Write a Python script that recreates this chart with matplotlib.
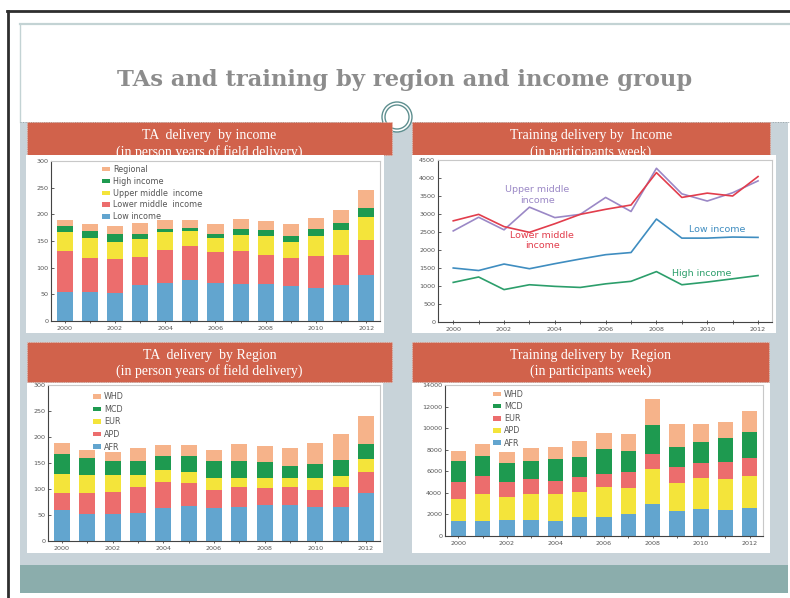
import matplotlib

matplotlib.use("Agg")

import matplotlib.pyplot as plt
from matplotlib.patches import Rectangle, Ellipse
from matplotlib.lines import Line2D
import numpy as np

W, H = 790, 598

years = list(range(2000, 2013))

# TA delivery by income (person years)
ta_inc_low = [54, 54, 53, 67, 71, 77, 71, 70, 70, 65, 62, 67, 87]
ta_inc_lower_mid = [77, 64, 63, 53, 63, 64, 58, 61, 54, 53, 60, 57, 65]
ta_inc_upper_mid = [35, 38, 32, 33, 32, 27, 27, 31, 35, 31, 37, 46, 43]
ta_inc_high = [12, 12, 15, 11, 7, 6, 7, 11, 11, 10, 13, 14, 16]
ta_inc_regional = [12, 13, 15, 20, 17, 16, 18, 18, 17, 22, 21, 25, 35]

# Training delivery by income (participant weeks)
tr_upper_mid = [2530, 2910, 2560, 3190, 2900, 2990, 3460, 3070, 4270, 3560, 3360, 3590, 3920]
tr_lower_mid = [2810, 2990, 2650, 2490, 2730, 2990, 3130, 3250, 4150, 3460, 3580, 3500, 4040]
tr_low = [1500, 1430, 1610, 1480, 1620, 1750, 1870, 1930, 2860, 2330, 2330, 2360, 2350]
tr_high = [1100, 1250, 900, 1035, 990, 960, 1060, 1130, 1400, 1035, 1110, 1200, 1290]

# TA delivery by region (person years)
ta_afr = [60, 52, 52, 53, 64, 68, 63, 65, 69, 69, 66, 66, 93]
ta_apd = [32, 40, 43, 50, 49, 43, 36, 38, 32, 34, 33, 37, 39]
ta_eur = [36, 34, 31, 24, 24, 21, 22, 19, 21, 18, 23, 22, 25]
ta_mcd = [39, 33, 28, 27, 27, 32, 33, 32, 29, 23, 27, 31, 29]
ta_whd = [21, 16, 18, 24, 21, 21, 21, 33, 32, 34, 40, 50, 54]

# Training delivery by region (participant weeks)
tr_afr = [1420, 1420, 1480, 1480, 1390, 1730, 1730, 2010, 2940, 2320, 2500, 2410, 2630]
tr_apd = [2010, 2470, 2160, 2410, 2470, 2380, 2840, 2470, 3240, 2620, 2910, 2870, 2970]
tr_eur = [1545, 1670, 1390, 1360, 1270, 1390, 1140, 1480, 1390, 1420, 1390, 1610, 1610]
tr_mcd = [2010, 1885, 1700, 1730, 2010, 1790, 2350, 1920, 2720, 1850, 1950, 2160, 2470]
tr_whd = [900, 1050, 1020, 1210, 1140, 1515, 1450, 1545, 2380, 2130, 1610, 1545, 1920]

C_BLUE = "#62a5cf"
C_RED = "#ec6d6d"
C_YELLOW = "#f4e43a"
C_GREEN = "#1e9a50"
C_PEACH = "#f6b38a"
C_HEADER = "#d1624b"
C_PANEL = "#c8d3d9"
C_TEAL = "#8badac"
TICK_C = "#555555"

fig = plt.figure(figsize=(W / 100, H / 100), dpi=100)
fig.patch.set_facecolor("white")


def frect(x0, y0, x1, y1, **kw):
    r = Rectangle((x0 / W, 1 - y1 / H), (x1 - x0) / W, (y1 - y0) / H,
                  transform=fig.transFigure, **kw)
    fig.patches.append(r)
    return r


def fline(xs, ys, **kw):
    fig.lines.append(Line2D([x / W for x in xs], [1 - y / H for y in ys],
                            transform=fig.transFigure, **kw))


def axbox(x0, y0, x1, y1):
    return [x0 / W, 1 - y1 / H, (x1 - x0) / W, (y1 - y0) / H]


# slide frame
fline([7, 790], [11, 11], color="#2e2e2e", linewidth=2, zorder=6)
fline([8, 8], [11, 598], color="#2e2e2e", linewidth=2, zorder=6)
fline([20, 790], [24, 24], color="#c3d3d4", linewidth=1.6, zorder=0.2)
fline([20, 20], [24, 122], color="#c3d3d4", linewidth=1, zorder=0.2)
frect(20, 122, 788, 565, facecolor=C_PANEL, edgecolor="none", zorder=0.1)
frect(20, 565, 788, 593, facecolor=C_TEAL, edgecolor="none", zorder=0.1)
fline([20, 790], [122, 122], color="#9aa4a8", linewidth=0.7, linestyle=":", zorder=0.3)

fig.text(405 / W, 1 - 80 / H, "TAs and training by region and income group",
         ha="center", va="center", fontsize=16.3, fontweight="bold",
         family="DejaVu Serif", color="#8c8c8c", zorder=1)

# ring ornament
fig.patches.append(Ellipse((397 / W, 1 - 117 / H), 30 / W, 30 / H, transform=fig.transFigure,
                           facecolor="white", edgecolor="#5e8f8f", linewidth=1.0, zorder=0.5))
fig.patches.append(Ellipse((397 / W, 1 - 117 / H), 24 / W, 24 / H, transform=fig.transFigure,
                           facecolor="none", edgecolor="#5e8f8f", linewidth=1.0, zorder=0.5))


def header(x0, y0, x1, y1, line1, line2, ty1, ty2):
    frect(x0, y0, x1, y1, facecolor=C_HEADER, edgecolor="#e6c9c0",
          linewidth=0.6, linestyle=":", zorder=1)
    cx = (x0 + x1) / 2 / W
    fig.text(cx, 1 - ty1 / H, line1, ha="center", va="center", fontsize=10,
             family="Liberation Serif", color="white", zorder=1.5)
    fig.text(cx, 1 - ty2 / H, line2, ha="center", va="center", fontsize=10,
             family="Liberation Serif", color="white", zorder=1.5)


def style_axes(ax, ymax, ystep):
    ax.set_facecolor("white")
    ax.set_zorder(3)
    ax.set_ylim(0, ymax)
    ax.set_yticks(np.arange(0, ymax + 1, ystep))
    for s in ("left", "bottom"):
        ax.spines[s].set_color("#444444")
        ax.spines[s].set_linewidth(0.8)
    for s in ("top", "right"):
        ax.spines[s].set_color("#c8c8c8")
        ax.spines[s].set_linewidth(0.8)
    ax.tick_params(axis="both", labelsize=4.6, colors="#444444", labelcolor=TICK_C,
                   length=3, width=0.6, pad=2)
    ax.tick_params(axis="x", direction="inout")
    ax.tick_params(axis="y", direction="in", length=2)


def stacked(ax, series, colors, labels, legend_x, legend_y, spacing):
    x = np.arange(len(years))
    bottom = np.zeros(len(years))
    handles = []
    for vals, c, lab in zip(series, colors, labels):
        b = ax.bar(x, vals, 0.64, bottom=bottom, color=c, label=lab, zorder=2)
        handles.append(b)
        bottom += np.array(vals)
    ax.set_xlim(-0.55, len(years) - 0.45)
    ax.set_xticks(x)
    ax.set_xticklabels([str(y) if y % 2 == 0 else "" for y in years])
    leg = ax.legend(handles[::-1], labels[::-1], loc="upper left",
                    bbox_to_anchor=(legend_x, legend_y), frameon=False,
                    fontsize=5.8, handlelength=1.0, handleheight=0.5,
                    handletextpad=0.4, labelspacing=spacing, borderaxespad=0)
    for t in leg.get_texts():
        t.set_color("#555555")


# --- top left: TA delivery by income
header(27, 122, 392, 155, "TA  delivery  by income", "(in person years of field delivery)", 136, 152)
frect(26, 155, 384, 333, facecolor="white", edgecolor="none", zorder=2)
ax1 = fig.add_axes(axbox(51, 161, 380, 321))
style_axes(ax1, 300, 50)
stacked(ax1, [ta_inc_low, ta_inc_lower_mid, ta_inc_upper_mid, ta_inc_high, ta_inc_regional],
        [C_BLUE, C_RED, C_YELLOW, C_GREEN, C_PEACH],
        ["Low income", "Lower middle  income", "Upper middle  income", "High income", "Regional"],
        0.145, 0.995, 0.35)

# --- top right: training delivery by income
header(412, 122, 770, 155, "Training delivery by  Income", "(in participants week)", 136, 152)
frect(412, 155, 776, 333, facecolor="white", edgecolor="none", zorder=2)
ax2 = fig.add_axes(axbox(438, 160, 772, 322))
style_axes(ax2, 4500, 500)
ax2.plot(years, tr_upper_mid, color="#9b88c6", linewidth=1.2)
ax2.plot(years, tr_lower_mid, color="#e23d4c", linewidth=1.2)
ax2.plot(years, tr_low, color="#3f8dc0", linewidth=1.2)
ax2.plot(years, tr_high, color="#2c9e6b", linewidth=1.2)
ax2.set_xlim(1999.4, 2012.55)
ax2.set_xticks(years)
ax2.set_xticklabels([str(y) if y % 2 == 0 else "" for y in years])
ax2.text(2003.3, 3530, "Upper middle\nincome", color="#9b88c6", fontsize=6.8,
         ha="center", va="center", linespacing=1.2)
ax2.text(2003.5, 2270, "Lower middle\nincome", color="#e23d4c", fontsize=6.8,
         ha="center", va="center", linespacing=1.2)
ax2.text(2010.4, 2560, "Low income", color="#3f8dc0", fontsize=6.8, ha="center", va="center")
ax2.text(2009.8, 1360, "High income", color="#2c9e6b", fontsize=6.8, ha="center", va="center")

# --- bottom left: TA delivery by region
header(27, 342, 392, 382, "TA  delivery  by Region", "(in person years of field delivery)", 355, 371)
frect(27, 383, 383, 553, facecolor="white", edgecolor="none", zorder=2)
ax3 = fig.add_axes(axbox(48, 385, 380, 541))
style_axes(ax3, 300, 50)
stacked(ax3, [ta_afr, ta_apd, ta_eur, ta_mcd, ta_whd],
        [C_BLUE, C_RED, C_YELLOW, C_GREEN, C_PEACH],
        ["AFR", "APD", "EUR", "MCD", "WHD"],
        0.125, 0.975, 0.45)

# --- bottom right: training delivery by region
header(412, 342, 769, 382, "Training delivery by  Region", "(in participants week)", 355, 371)
frect(412, 383, 770, 553, facecolor="white", edgecolor="none", zorder=2)
ax4 = fig.add_axes(axbox(445, 385, 763, 536))
style_axes(ax4, 14000, 2000)
stacked(ax4, [tr_afr, tr_apd, tr_eur, tr_mcd, tr_whd],
        [C_BLUE, C_YELLOW, C_RED, C_GREEN, C_PEACH],
        ["AFR", "APD", "EUR", "MCD", "WHD"],
        0.14, 0.99, 0.4)

fig.savefig("out.png", dpi=100, facecolor="white")
